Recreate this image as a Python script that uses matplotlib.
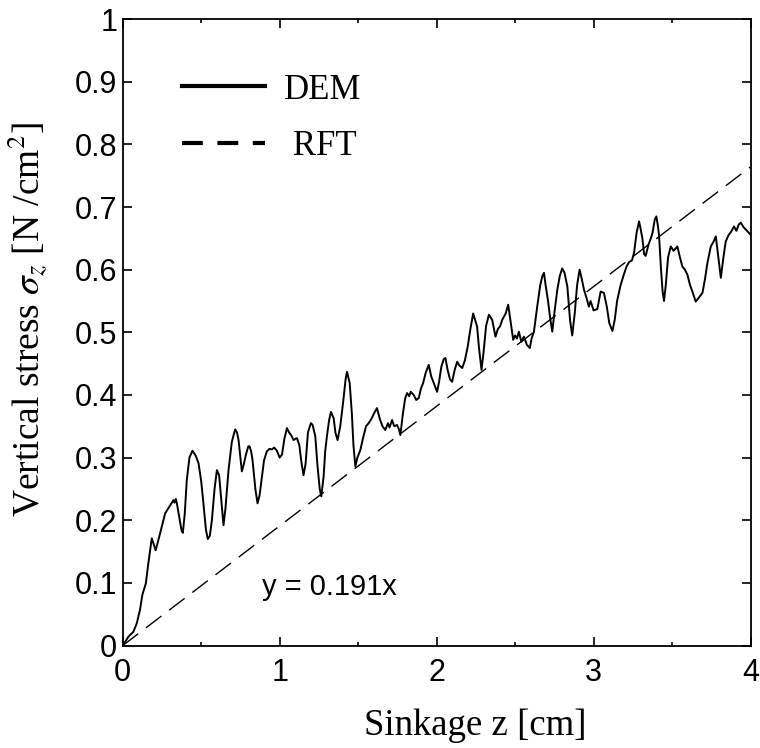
import matplotlib
matplotlib.use("Agg")
import matplotlib.pyplot as plt
from matplotlib.lines import Line2D

plt.rcParams['mathtext.fontset'] = 'stix'

# DEM vertical stress vs sinkage
dem_z = [0.0, 0.036, 0.068, 0.089, 0.11, 0.125, 0.147, 0.163, 0.185, 0.202, 0.21, 0.238,
         0.27, 0.30, 0.323, 0.33, 0.338, 0.345, 0.36, 0.375, 0.383, 0.395, 0.408, 0.425,
         0.444, 0.465, 0.483, 0.50, 0.514, 0.53, 0.542, 0.555, 0.568, 0.585, 0.60, 0.614,
         0.625, 0.642, 0.655, 0.674, 0.695, 0.716, 0.728, 0.738, 0.75, 0.759, 0.772, 0.785,
         0.80, 0.808, 0.818, 0.827, 0.845, 0.859, 0.872, 0.887, 0.90, 0.918, 0.935, 0.95,
         0.965, 0.982, 1.0, 1.015, 1.03, 1.046, 1.06, 1.075, 1.088, 1.10, 1.11, 1.125,
         1.14, 1.152, 1.165, 1.18, 1.199, 1.21, 1.227, 1.24, 1.255, 1.265, 1.28, 1.29,
         1.301, 1.315, 1.327, 1.335, 1.344, 1.355, 1.369, 1.386, 1.405, 1.42, 1.429, 1.446,
         1.46, 1.47, 1.482, 1.495, 1.514, 1.53, 1.55, 1.567, 1.585, 1.60, 1.62, 1.64,
         1.655, 1.673, 1.69, 1.70, 1.716, 1.73, 1.748, 1.76, 1.769, 1.785, 1.80, 1.812,
         1.825, 1.835, 1.854, 1.87, 1.886, 1.90, 1.914, 1.93, 1.95, 1.965, 1.982, 1.995,
         2.003, 2.015, 2.03, 2.045, 2.056, 2.07, 2.085, 2.099, 2.115, 2.131, 2.145, 2.163,
         2.18, 2.198, 2.215, 2.233, 2.245, 2.258, 2.27, 2.286, 2.30, 2.315, 2.333, 2.354,
         2.375, 2.39, 2.405, 2.418, 2.44, 2.456, 2.47, 2.488, 2.50, 2.512, 2.524, 2.54,
         2.556, 2.575, 2.594, 2.605, 2.62, 2.641, 2.66, 2.673, 2.684, 2.694, 2.71, 2.725,
         2.737, 2.75, 2.769, 2.785, 2.80, 2.815, 2.833, 2.85, 2.864, 2.88, 2.895, 2.911,
         2.925, 2.939, 2.955, 2.97, 2.981, 3.0, 3.024, 3.045, 3.066, 3.085, 3.10, 3.12,
         3.135, 3.15, 3.172, 3.19, 3.21, 3.226, 3.245, 3.258, 3.275, 3.29, 3.30, 3.311,
         3.322, 3.332, 3.35, 3.365, 3.375, 3.39, 3.40, 3.41, 3.417, 3.43, 3.44, 3.449,
         3.46, 3.475, 3.492, 3.51, 3.534, 3.55, 3.566, 3.582, 3.598, 3.615, 3.63, 3.651,
         3.67, 3.694, 3.71, 3.725, 3.747, 3.765, 3.779, 3.795, 3.811, 3.825, 3.842, 3.86,
         3.875, 3.895, 3.91, 3.925, 3.938, 3.955, 3.97, 3.985, 4.0]
dem_sigma = [0.0, 0.014, 0.022, 0.035, 0.057, 0.081, 0.099, 0.131, 0.171, 0.158, 0.152, 0.179,
             0.211, 0.223, 0.232, 0.228, 0.234, 0.227, 0.205, 0.183, 0.18, 0.21, 0.264, 0.30,
             0.311, 0.303, 0.291, 0.262, 0.227, 0.185, 0.17, 0.175, 0.20, 0.25, 0.28, 0.272,
             0.24, 0.192, 0.22, 0.28, 0.325, 0.345, 0.34, 0.328, 0.30, 0.278, 0.29, 0.305,
             0.318, 0.318, 0.31, 0.296, 0.25, 0.227, 0.24, 0.27, 0.295, 0.31, 0.314, 0.313,
             0.316, 0.311, 0.30, 0.305, 0.33, 0.347, 0.34, 0.335, 0.328, 0.33, 0.331, 0.32,
             0.29, 0.272, 0.29, 0.34, 0.355, 0.352, 0.334, 0.29, 0.25, 0.238, 0.27, 0.31,
             0.334, 0.36, 0.373, 0.368, 0.363, 0.34, 0.328, 0.35, 0.39, 0.425, 0.437, 0.419,
             0.37, 0.32, 0.286, 0.30, 0.312, 0.33, 0.35, 0.355, 0.362, 0.37, 0.379, 0.36,
             0.35, 0.344, 0.355, 0.348, 0.36, 0.35, 0.352, 0.345, 0.336, 0.37, 0.395, 0.403,
             0.398, 0.405, 0.40, 0.392, 0.395, 0.41, 0.419, 0.435, 0.448, 0.43, 0.419, 0.41,
             0.405, 0.42, 0.445, 0.457, 0.459, 0.44, 0.425, 0.421, 0.44, 0.453, 0.447, 0.443,
             0.455, 0.477, 0.505, 0.53, 0.52, 0.509, 0.475, 0.44, 0.47, 0.51, 0.528, 0.52,
             0.493, 0.505, 0.51, 0.52, 0.53, 0.544, 0.52, 0.488, 0.495, 0.49, 0.501, 0.485,
             0.493, 0.48, 0.475, 0.49, 0.501, 0.541, 0.575, 0.589, 0.595, 0.576, 0.55, 0.52,
             0.501, 0.53, 0.568, 0.59, 0.602, 0.595, 0.573, 0.52, 0.495, 0.53, 0.575, 0.60,
             0.585, 0.568, 0.555, 0.541, 0.55, 0.535, 0.537, 0.565, 0.563, 0.54, 0.515, 0.502,
             0.52, 0.55, 0.575, 0.59, 0.605, 0.612, 0.615, 0.627, 0.66, 0.677, 0.665, 0.65,
             0.625, 0.622, 0.64, 0.65, 0.658, 0.68, 0.685, 0.67, 0.655, 0.60, 0.565, 0.55,
             0.575, 0.62, 0.637, 0.63, 0.637, 0.62, 0.605, 0.60, 0.592, 0.575, 0.565, 0.549,
             0.555, 0.563, 0.585, 0.61, 0.637, 0.645, 0.653, 0.62, 0.587, 0.615, 0.645, 0.655,
             0.66, 0.669, 0.662, 0.672, 0.675, 0.668, 0.664, 0.66, 0.656]

# RFT linear fit y = 0.191x
rft_slope = 0.191
rft_z = [0.0, 4.0]
rft_sigma = [rft_slope * z for z in rft_z]

x_ticks = [0, 0.5, 1, 1.5, 2, 2.5, 3, 3.5, 4]
x_major = [0, 1, 2, 3, 4]
x_labels = ['0', '1', '2', '3', '4']
y_ticks = [0, 0.1, 0.2, 0.3, 0.4, 0.5, 0.6, 0.7, 0.8, 0.9, 1]
y_labels = ['0', '0.1', '0.2', '0.3', '0.4', '0.5', '0.6', '0.7', '0.8', '0.9', '1']

fig = plt.figure(figsize=(7.6, 7.48), dpi=100)
ax = fig.add_axes([0.1615, 0.137, 0.826, 0.8375])

ax.plot(dem_z, dem_sigma, color='black', lw=1.4)
ax.plot(rft_z, rft_sigma, color='black', lw=1.0, dashes=(14, 7))

ax.set_xlim(0, 4)
ax.set_ylim(0, 1)
ax.set_xticks(x_major)
ax.set_xticklabels(x_labels)
ax.set_xticks([t for t in x_ticks if t not in x_major], minor=True)
ax.set_yticks(y_ticks)
ax.set_yticklabels(y_labels)

ax.tick_params(which='both', direction='in', top=True, right=True, width=1.2)
ax.tick_params(which='major', length=6.5)
ax.tick_params(which='minor', length=3)
ax.tick_params(axis='x', pad=9)
ax.tick_params(axis='y', pad=4)
for lbl in ax.get_xticklabels() + ax.get_yticklabels():
    lbl.set_fontfamily('Liberation Sans')
    lbl.set_fontsize(22)
for sp in ax.spines.values():
    sp.set_linewidth(1.3)

ax.set_xlabel('Sinkage z [cm]', fontfamily='Liberation Serif', fontsize=26.5)
ax.xaxis.set_label_coords(0.561, -0.1)
ax.set_ylabel(r'Vertical stress $\sigma_z$ [N /cm$^2$]', fontfamily='Liberation Serif',
              fontsize=27)
ax.yaxis.set_label_coords(-0.114, 0.52)

ax.text(0.889, 0.093, 'y = 0.191x', fontfamily='Liberation Sans', fontsize=21,
        ha='left', va='center')

handles = [Line2D([], [], color='black', lw=3),
           Line2D([], [], color='black', lw=3, dashes=(5, 3.5))]
ax.legend(handles, ['DEM', ' RFT'], loc='upper left', bbox_to_anchor=(0.044, 0.963),
          frameon=False, handlelength=2.4, handletextpad=0.55, labelspacing=0.69,
          prop={'family': 'Liberation Serif', 'size': 25})

fig.savefig('out.png', dpi=100)
